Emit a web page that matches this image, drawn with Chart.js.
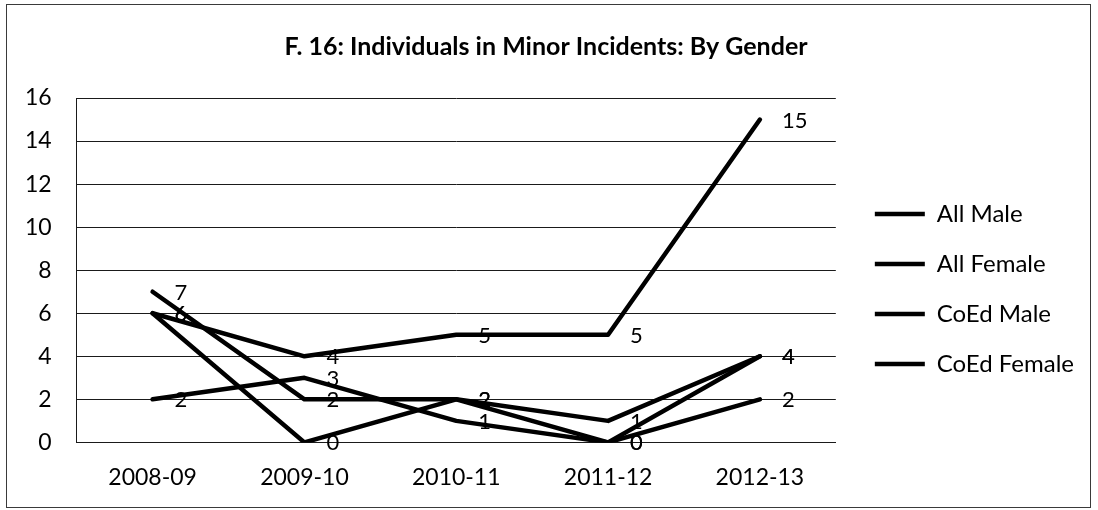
<!DOCTYPE html>
<html>
<head>
<meta charset="utf-8">
<script src="https://cdn.jsdelivr.net/npm/chart.js@4.4.1/dist/chart.umd.min.js"></script>
<style>
  html, body { margin: 0; padding: 0; background: #fff; }
  #wrap { position: relative; width: 1098px; height: 510px; }
  #frame { position: absolute; left: 6px; top: 4px; width: 1085px; height: 504px;
           border: 1.5px solid #3a3a3a; box-sizing: border-box; pointer-events: none; }
  canvas { display: block; }
</style>
</head>
<body>
<div id="wrap">
  <canvas id="c" width="1098" height="510"></canvas>
  <div id="frame"></div>
</div>
<script>
// School years on the category axis
const seasons = ['2008-09', '2009-10', '2010-11', '2011-12', '2012-13'];

// Individuals involved in minor incidents, per group
const allMale    = [6, 4, 5, 5, 15];
const allFemale  = [7, 2, 2, 1, 4];
const coedMale   = [6, 0, 2, 0, 4];
const coedFemale = [2, 3, 1, 0, 2];

const seriesNames = ['All Male', 'All Female', 'CoEd Male', 'CoEd Female'];
const seriesValues = [allMale, allFemale, coedMale, coedFemale];

// Value axis range
const yMin = 0, yMax = 16, yStep = 2;

const FONT = 'Lato';

// Writes each point's value just to the right of it
const valueLabels = {
  id: 'valueLabels',
  afterDatasetsDraw(chart) {
    const ctx = chart.ctx;
    ctx.save();
    ctx.font = `22px ${FONT}`;
    ctx.fillStyle = '#000';
    ctx.textAlign = 'left';
    ctx.textBaseline = 'middle';
    chart.data.datasets.forEach((ds, i) => {
      const meta = chart.getDatasetMeta(i);
      meta.data.forEach((pt, j) => {
        ctx.fillText(String(ds.data[j]), pt.x + 22, pt.y + 1);
      });
    });
    ctx.restore();
  }
};

// Centres the title across the whole frame and places the legend
// a little right of the plot, lowered toward its middle
const blockPlacement = {
  id: 'blockPlacement',
  afterLayout(chart) {
    const t = chart.titleBlock;
    if (t) { t.left = 0; t.right = chart.width - 6; t.width = t.right - t.left; }
    const l = chart.legend;
    if (!l) return;
    const area = chart.chartArea;
    const dx = area.right + 13 - l.left;
    l.left += dx; l.right += dx;
    const h = l.bottom - l.top;
    l.top = area.top + 78;
    l.bottom = l.top + h;
  }
};

new Chart(document.getElementById('c'), {
  type: 'line',
  data: {
    labels: seasons,
    datasets: seriesNames.map((name, i) => ({
      label: name,
      data: seriesValues[i],
      borderColor: '#000',
      backgroundColor: '#000',
      borderWidth: 4.5,
      borderCapStyle: 'round',
      borderJoinStyle: 'round',
      pointRadius: 0,
      tension: 0,
      fill: false
    }))
  },
  options: {
    responsive: false,
    animation: false,
    devicePixelRatio: 1,
    layout: { padding: { left: 0, right: 27, top: 0, bottom: -2 } },
    plugins: {
      title: {
        display: true,
        text: 'F. 16: Individuals in Minor Incidents: By Gender',
        color: '#000',
        font: { family: FONT, size: 25, weight: 'bold' },
        padding: { top: 32, bottom: 36 }
      },
      legend: {
        display: true,
        position: 'right',
        align: 'start',
        labels: {
          color: '#000',
          font: { family: FONT, size: 24 },
          usePointStyle: true,
          pointStyle: 'line',
          pointStyleWidth: 50,
          padding: 26
        }
      },
      tooltip: { enabled: false }
    },
    scales: {
      x: {
        offset: true,
        grid: { display: false, drawTicks: false },
        border: { display: true, color: '#1a1a1a', width: 1 },
        ticks: { color: '#000', font: { family: FONT, size: 23 }, padding: 21 }
      },
      y: {
        min: yMin,
        max: yMax,
        grid: { color: '#1a1a1a', lineWidth: 1, drawTicks: false },
        border: { display: true, color: '#1a1a1a', width: 1 },
        ticks: { stepSize: yStep, color: '#000', font: { family: FONT, size: 23 }, padding: 25 }
      }
    }
  },
  plugins: [valueLabels, blockPlacement]
});
</script>
</body>
</html>
